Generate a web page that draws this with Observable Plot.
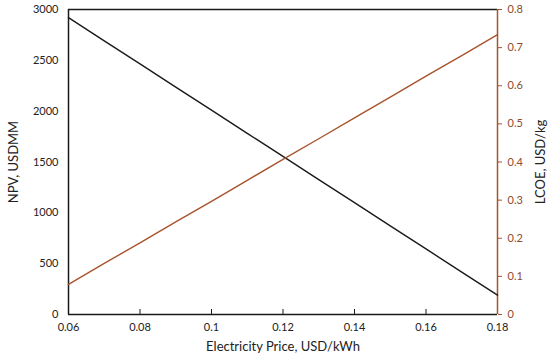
<!DOCTYPE html>
<html>
<head>
<meta charset="utf-8">
<script src="https://cdn.jsdelivr.net/npm/d3@7"></script>
<script src="https://cdn.jsdelivr.net/npm/@observablehq/plot@0.6"></script>
<style>
  html, body { margin: 0; padding: 0; background: #fff; }
</style>
</head>
<body>
<div id="chart"></div>
<script>
// Data
const price = [0.06, 0.07, 0.08, 0.09, 0.10, 0.11, 0.12, 0.13, 0.14, 0.15, 0.16, 0.17, 0.18];
const npv   = [2920, 2692, 2465, 2237, 2010, 1782, 1555, 1327, 1100, 872, 645, 417, 190];
const lcoe  = [0.079, 0.134, 0.188, 0.243, 0.297, 0.352, 0.407, 0.461, 0.516, 0.570, 0.625, 0.679, 0.734];

const xTicks = [0.06, 0.08, 0.10, 0.12, 0.14, 0.16, 0.18];
const npvTicks = [0, 500, 1000, 1500, 2000, 2500, 3000];
const lcoeTicks = [0, 0.1, 0.2, 0.3, 0.4, 0.5, 0.6, 0.7, 0.8];

const npvMax = 3000, lcoeMax = 0.8;
const k = npvMax / lcoeMax; // maps LCOE onto the NPV scale (secondary axis)

const black = "#1a1a1a";
const brown = "#a8532c";
const brownText = "#8e4b2e";

const npvData = price.map((p, i) => ({p, v: npv[i]}));
const lcoeData = price.map((p, i) => ({p, v: lcoe[i] * k}));

const chart = Plot.plot({
  width: 550,
  height: 361,
  marginLeft: 68,
  marginRight: 53,
  marginTop: 9,
  marginBottom: 47,
  style: {fontFamily: "Lato, 'Open Sans', sans-serif", fontSize: "11px", color: "#222", background: "#fff"},
  x: {domain: [0.06, 0.18]},
  y: {domain: [0, npvMax]},
  marks: [
    // axes ticks & labels
    Plot.axisX(xTicks, {tickSize: 0, tickPadding: 9, label: null, tickFormat: d => String(+d.toFixed(2)), fill: "#222"}),
    Plot.ruleX(xTicks, {insetTop: 300, stroke: black, strokeWidth: 1}),
    Plot.axisY(npvTicks, {anchor: "left", tickSize: 0, tickPadding: 10, label: null, tickFormat: d => String(d), fill: "#222"}),
    Plot.axisY(lcoeTicks.map(v => v * k), {anchor: "right", tickSize: 4, tickPadding: 6, label: null,
      tickFormat: d => String(+(d / k).toFixed(1)), stroke: brown, fill: brownText}),
    // frame lines
    Plot.ruleY([0], {stroke: black, strokeWidth: 1.5}),
    Plot.ruleY([npvMax], {stroke: black, strokeWidth: 1.5}),
    Plot.ruleX([0.06], {stroke: black, strokeWidth: 1.5}),
    Plot.ruleX([0.18], {stroke: brown, strokeWidth: 1.5}),
    // series
    Plot.line(npvData, {x: "p", y: "v", stroke: black, strokeWidth: 1.4}),
    Plot.line(lcoeData, {x: "p", y: "v", stroke: brown, strokeWidth: 1.4}),
    // titles
    Plot.text(["NPV, USDMM"], {frameAnchor: "left", textAnchor: "middle", dx: -55, rotate: -90, fontSize: 13, fill: "#222"}),
    Plot.text(["LCOE, USD/kg"], {frameAnchor: "right", textAnchor: "middle", dx: 43, rotate: -90, fontSize: 13, fill: "#222"}),
    Plot.text(["Electricity Price, USD/kWh"], {frameAnchor: "bottom", dy: 36, fontSize: 13, fill: "#222"})
  ]
});
document.getElementById("chart").appendChild(chart);
</script>
</body>
</html>
